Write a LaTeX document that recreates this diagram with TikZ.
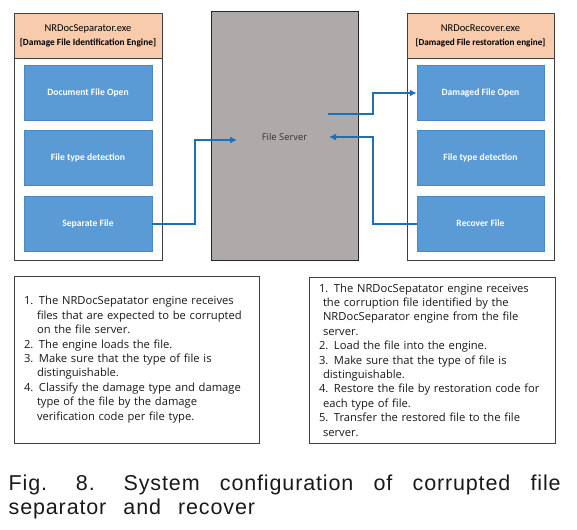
\documentclass[tikz,border=0pt]{standalone}
\usepackage{fontspec}
\setmainfont{Open Sans}
\newfontfamily\calfont{Carlito}
\newfontfamily\capfont[LetterSpace=4,WordSpace=2.5]{Liberation Sans}
\usetikzlibrary{arrows.meta,calc}
\definecolor{peach}{HTML}{F8CBAD}
\definecolor{boxblue}{HTML}{5B9BD5}
\definecolor{boxedge}{HTML}{4A88C2}
\definecolor{arrowblue}{HTML}{1F6FB8}
\definecolor{srvgray}{HTML}{AEAAAA}
\definecolor{frame}{HTML}{404040}
\newcommand{\cnt}[1]{\hspace*{13pt}#1}
\newcommand{\cntr}[1]{\hspace*{4pt}#1}
\begin{document}
\begin{tikzpicture}[x=1pt,y=-1pt,
  panel/.style={draw=frame, line width=0.9pt, fill=white, minimum width=148pt, minimum height=247pt, inner sep=0pt},
  header/.style={draw=frame, line width=0.9pt, fill=peach, minimum width=148pt, minimum height=45pt, inner sep=0pt, align=center, font=\calfont\fontsize{10.5}{15}\selectfont},
  bluebox/.style={fill=boxblue, draw=boxedge, line width=0.5pt, text=white, font=\calfont\bfseries\fontsize{9.6}{11}\selectfont, minimum width=128pt, minimum height=55pt, inner sep=0pt},
  server/.style={fill=srvgray, draw=black!85, line width=1pt, minimum width=147pt, minimum height=248pt, inner sep=0pt},
  textbox/.style={draw=frame, line width=0.9pt, fill=white, inner xsep=10pt, inner ysep=0pt, align=left, text width=232pt, font=\fontsize{11.2}{14.4}\selectfont, text=black!90},
  captext/.style={anchor=base west, inner sep=0pt, font=\capfont\fontsize{21.5}{24}\selectfont, text=black!90},
  conn/.style={draw=arrowblue, line width=2pt},
  tipped/.style={-{Latex[length=7pt,width=7pt]}}
]
\useasboundingbox (0,0) rectangle (577,529);

% left panel
\node[panel] (lp) at (88,136.5) {};
\node[header] (lh) at (88,35.5) {NRDocSeparator.exe\\[-1pt]{\fontsize{9.4}{10}\selectfont\bfseries [Damage File Identification Engine]}};
\node[bluebox] (l1) at (88,93) {Document File Open};
\node[bluebox] (l2) at (88,157.5) {File type detection};
\node[bluebox] (l3) at (88,223.5) {Separate File};

% right panel
\node[panel, minimum width=147pt] (rp) at (480.5,136.5) {};
\node[header, minimum width=147pt] (rh) at (480.5,35.5) {NRDocRecover.exe\\[-1pt]{\fontsize{9.2}{10}\selectfont\bfseries [Damaged File restoration engine]}};
\node[bluebox, minimum width=127pt] (r1) at (480.5,93) {Damaged File Open};
\node[bluebox, minimum width=127pt] (r2) at (480.5,157.5) {File type detection};
\node[bluebox, minimum width=127pt] (r3) at (480.5,223.5) {Recover File};

% server
\node[server] (srv) at (284.5,136) {};
\node[font=\fontsize{9.4}{11}\selectfont, text=black!80] (srvlabel) at (284.5,137) {File Server};
\coordinate (sin) at (237,140);
\coordinate (sout) at (328,114);
\coordinate (sin2) at (329,137);

% connectors
\draw[conn, tipped] (l3.east) -- ++(43,0) |- (sin);
\draw[conn, tipped] (sout) -- ++(45,0) |- (r1.west);
\draw[conn, tipped] (r3.west) -- ++(-44,0) |- (sin2);

% text boxes
\node[textbox, minimum height=167pt, text width=225pt] (tl) at (136.5,359.5) {%
1. The NRDocSepatator engine receives\\
\cnt{files that are expected to be corrupted}\\
\cnt{on the file server.}\\
2. The engine loads the file.\\
3. Make sure that the type of file is\\
\cnt{distinguishable.}\\
4. Classify the damage type and damage\\
\cnt{type of the file by the damage}\\
\cnt{verification code per file type.}};

\node[textbox, minimum height=166pt, text width=226pt] (tr) at (432,360) {%
1. The NRDocSepatator engine receives\\
\cntr{the corruption file identified by the}\\
\cntr{NRDocSeparator engine from the file}\\
\cntr{server.}\\
2. Load the file into the engine.\\
3. Make sure that the type of file is\\
\cntr{distinguishable.}\\
4. Restore the file by restoration code for\\
\cntr{each type of file.}\\
5. Transfer the restored file to the file\\
\cntr{server.}};

% caption
\node[captext] (cap1) at (8.5,490) {\makebox[552pt][s]{Fig. 8. System configuration of corrupted file}};
\node[captext] (cap2) at (8.5,514) {separator and recover};
\end{tikzpicture}
\end{document}
